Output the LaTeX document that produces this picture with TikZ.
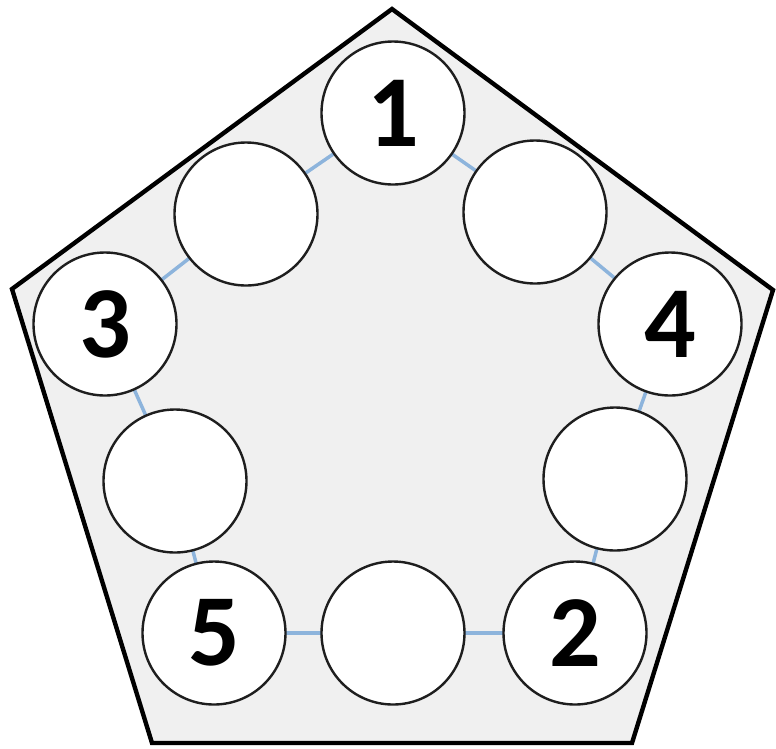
\documentclass[tikz,border=0pt]{standalone}
\usepackage{fontspec}
\setmainfont{Carlito}
\definecolor{penfill}{HTML}{F0F0F0}
\definecolor{linkblue}{HTML}{8DB4DC}
\definecolor{ringline}{HTML}{1E1E1E}
\begin{document}
\begin{tikzpicture}[x=1pt,y=-1pt,
  ring/.style={circle,draw=ringline,line width=2.4pt,fill=white,minimum size=143pt,inner sep=0pt,
    font=\bfseries\fontsize{102}{102}\selectfont},
  link/.style={draw=linkblue,line width=3.5pt},
  penta/.style={draw=black,line width=4.4pt,fill=penfill,line join=miter}]
\useasboundingbox (0,0) rectangle (776,748);
\draw[penta] (392,9) -- (773,290) -- (632,743) -- (152,743) -- (12,289) -- cycle;
\coordinate (c1) at (393,113);
\coordinate (cTR) at (535,212);
\coordinate (c4) at (670,324);
\coordinate (cR) at (615,479);
\coordinate (c2) at (575,633);
\coordinate (cB) at (393,633);
\coordinate (c5) at (214,633);
\coordinate (cL) at (175,481);
\coordinate (c3) at (105,324);
\coordinate (cTL) at (246,214);
\foreach \a/\b in {c1/cTR,cTR/c4,c4/cR,cR/c2,c2/cB,cB/c5,c5/cL,cL/c3,c3/cTL,cTL/c1}
  \draw[link] (\a) -- (\b);
\node[ring] (n1) at (c1) {1};
\node[ring] (nTR) at (cTR) {};
\node[ring] (n4) at (c4) {4};
\node[ring] (nR) at (cR) {};
\node[ring] (n2) at (c2) {2};
\node[ring] (nB) at (cB) {};
\node[ring] (n5) at (c5) {5};
\node[ring] (nL) at (cL) {};
\node[ring] (n3) at (c3) {3};
\node[ring] (nTL) at (cTL) {};
\end{tikzpicture}
\end{document}
